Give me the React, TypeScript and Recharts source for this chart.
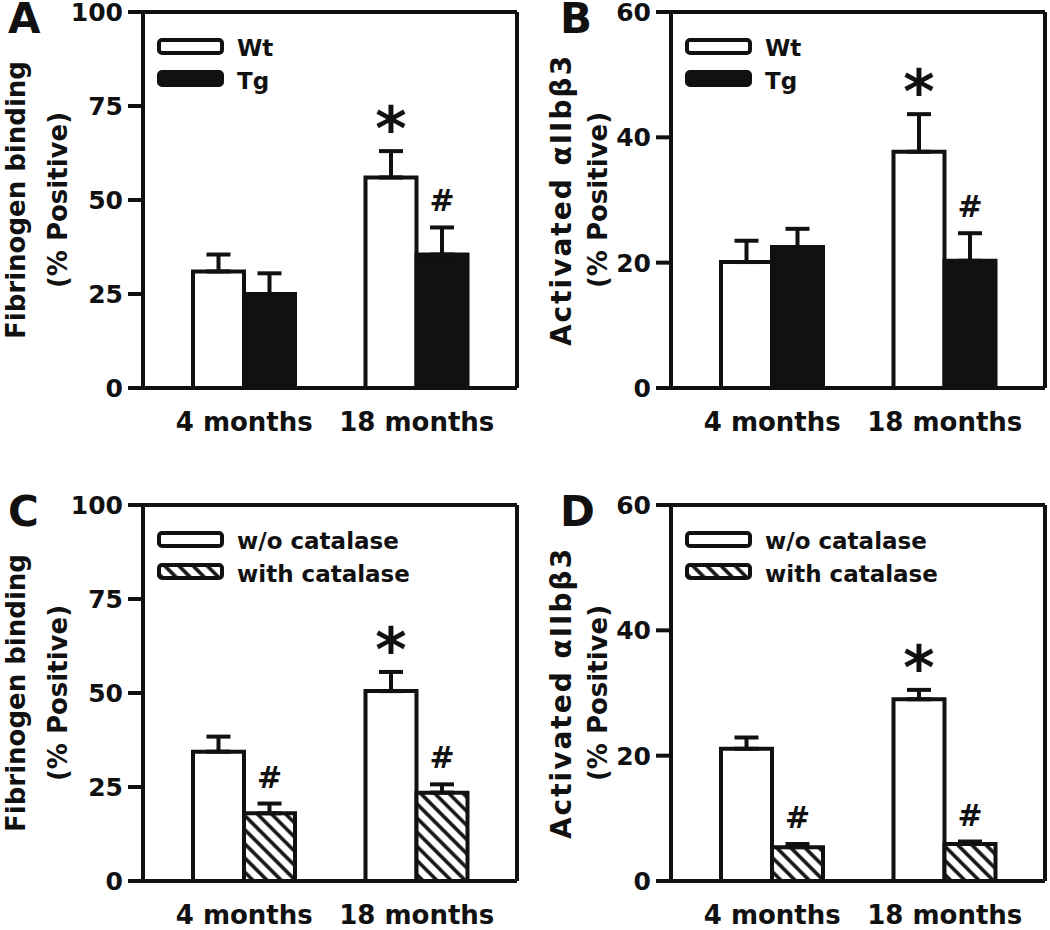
import React from 'react';
import { BarChart, Bar, XAxis, YAxis, ErrorBar, LabelList, ReferenceLine, Customized } from 'recharts';

const FONT = '"DejaVu Sans", Arial, sans-serif';
const INK = '#111';

const categories = ['4 months', '18 months'];

// A: fibrinogen binding, Wt vs Tg
const fibWt = [31, 56];
const fibWtErr = [4.5, 7];
const fibWtMark = ['', '*'];
const fibTg = [25, 35.5];
const fibTgErr = [5.5, 7.2];
const fibTgMark = ['', '#'];

// B: activated aIIbb3, Wt vs Tg
const actWt = [20.1, 37.7];
const actWtErr = [3.4, 6.0];
const actWtMark = ['', '*'];
const actTg = [22.5, 20.3];
const actTgErr = [2.9, 4.4];
const actTgMark = ['', '#'];

// C: fibrinogen binding, catalase
const fibNoCat = [34.4, 50.5];
const fibNoCatErr = [4.0, 5.1];
const fibNoCatMark = ['', '*'];
const fibCat = [18.0, 23.5];
const fibCatErr = [2.6, 2.2];
const fibCatMark = ['#', '#'];

// D: activated aIIbb3, catalase
const actNoCat = [21.1, 29.0];
const actNoCatErr = [1.8, 1.5];
const actNoCatMark = ['', '*'];
const actCat = [5.4, 5.9];
const actCatErr = [0.5, 0.4];
const actCatMark = ['#', '#'];

const fibTicks = [0, 25, 50, 75, 100];
const actTicks = [0, 20, 40, 60];

type Series = { name: string; values: number[]; errors: number[]; marks: string[]; fill: string };

function rows(a: Series, b: Series) {
  return categories.map((cat, i) => ({
    cat,
    a: a.values[i], aErr: [0, a.errors[i]], aMark: a.marks[i],
    b: b.values[i], bErr: [0, b.errors[i]], bMark: b.marks[i],
  }));
}

const W = 522;
const H = 437;

const markContent = (s: Series) => (p: any) => {
  const { x, y, width, height, value, index } = p;
  if (!value) return null;
  const perUnit = height / s.values[index];
  const errTop = y - s.errors[index] * perUnit;
  const cx = x + width / 2;
  if (value === '*') {
    return (
      <text x={cx} y={errTop - 1} textAnchor="middle" fontSize={60} fontWeight="bold" fontFamily={FONT} fill={INK}>*</text>
    );
  }
  return (
    <text x={cx} y={errTop - 16} textAnchor="middle" fontSize={30} fontWeight="bold" fontFamily={FONT} fill={INK}>#</text>
  );
};

function Decor({ letter, letterX, yLabel, labelX, labelSize, labelSpacing, names, fills }: any) {
  return (
    <g fontFamily={FONT} fontWeight="bold" fill={INK}>
      <text x={letterX} y={33} fontSize={42}>{letter}</text>
      {yLabel.map((line: string, i: number) => (
        <text
          key={i}
          transform={`translate(${labelX[i]},200) rotate(-90)`}
          textAnchor="middle"
          fontSize={labelSize[i]}
          letterSpacing={labelSpacing[i]}
        >
          {line}
        </text>
      ))}
      {names.map((n: string, i: number) => (
        <g key={n}>
          <rect x={159} y={40 + 32 * i} width={63} height={13} rx={3} fill={fills[i]} stroke={INK} strokeWidth={4} />
          <text x={237} y={56 + 33 * i} fontSize={23}>{n}</text>
        </g>
      ))}
    </g>
  );
}

function Panel({ letter, letterX, left, top, a, b, yMax, ticks, yLabel, labelX, labelSize, labelSpacing, hatchId }: any) {
  const data = rows(a, b);
  return (
    <div style={{ position: 'absolute', left, top, width: W, height: H }}>
      <BarChart width={W} height={H} data={data} margin={{ top: 12, right: 4, bottom: 0, left: 0 }} barGap={0} barSize={51}>
        {hatchId && (
          <defs>
            <pattern id={hatchId} patternUnits="userSpaceOnUse" width={10} height={10} patternTransform="rotate(-45)">
              <rect width={10} height={10} fill="#fff" />
              <line x1={5} y1={0} x2={5} y2={10} stroke={INK} strokeWidth={3.5} />
            </pattern>
          </defs>
        )}
        <XAxis
          dataKey="cat"
          height={49}
          padding={{ left: 15, right: 14 }}
          axisLine={{ stroke: INK, strokeWidth: 4 }}
          tickLine={false}
          tickSize={0}
          tickMargin={25}
          tick={{ fill: INK, fontSize: 26, fontWeight: 'bold', fontFamily: FONT }}
        />
        <YAxis
          width={143}
          domain={[0, yMax]}
          ticks={ticks}
          interval={0}
          axisLine={{ stroke: INK, strokeWidth: 4 }}
          tickLine={{ stroke: INK, strokeWidth: 4 }}
          tickSize={15}
          tickMargin={5}
          tick={{ fill: INK, fontSize: 25, fontWeight: 'bold', fontFamily: FONT }}
        />
        <YAxis
          yAxisId="frame"
          orientation="right"
          width={1}
          domain={[0, yMax]}
          tick={false}
          tickLine={false}
          axisLine={{ stroke: INK, strokeWidth: 4 }}
        />
        <ReferenceLine y={yMax} stroke={INK} strokeWidth={4} />
        <Bar dataKey="a" name={a.name} fill={a.fill} stroke={INK} strokeWidth={4} isAnimationActive={false}>
          <ErrorBar dataKey="aErr" width={12} stroke={INK} strokeWidth={4} isAnimationActive={false} />
          <LabelList dataKey="aMark" content={markContent(a)} />
        </Bar>
        <Bar dataKey="b" name={b.name} fill={b.fill} stroke={INK} strokeWidth={4} isAnimationActive={false}>
          <ErrorBar dataKey="bErr" width={12} stroke={INK} strokeWidth={4} isAnimationActive={false} />
          <LabelList dataKey="bMark" content={markContent(b)} />
        </Bar>
        <Customized
          component={
            <Decor
              letter={letter}
              letterX={letterX}
              yLabel={yLabel}
              labelX={labelX}
              labelSize={labelSize}
              labelSpacing={labelSpacing}
              names={[a.name, b.name]}
              fills={[a.fill, b.fill]}
            />
          }
        />
      </BarChart>
    </div>
  );
}

export default function App() {
  const wtA: Series = { name: 'Wt', values: fibWt, errors: fibWtErr, marks: fibWtMark, fill: '#fff' };
  const tgA: Series = { name: 'Tg', values: fibTg, errors: fibTgErr, marks: fibTgMark, fill: INK };
  const wtB: Series = { name: 'Wt', values: actWt, errors: actWtErr, marks: actWtMark, fill: '#fff' };
  const tgB: Series = { name: 'Tg', values: actTg, errors: actTgErr, marks: actTgMark, fill: INK };
  const noC: Series = { name: 'w/o catalase', values: fibNoCat, errors: fibNoCatErr, marks: fibNoCatMark, fill: '#fff' };
  const catC: Series = { name: 'with catalase', values: fibCat, errors: fibCatErr, marks: fibCatMark, fill: 'url(#hatchC)' };
  const noD: Series = { name: 'w/o catalase', values: actNoCat, errors: actNoCatErr, marks: actNoCatMark, fill: '#fff' };
  const catD: Series = { name: 'with catalase', values: actCat, errors: actCatErr, marks: actCatMark, fill: 'url(#hatchD)' };

  const fibLabel = ['Fibrinogen binding', '(% Positive)'];
  const actLabel = ['Activated \u03B1IIb\u03B23', '(% Positive)'];

  return (
    <div style={{ position: 'absolute', left: 0, top: 0, width: 1050, height: 930, overflow: 'hidden', background: '#fff', fontFamily: FONT }}>
      <style>{'.recharts-surface { overflow: visible; }'}</style>
      <Panel letter="A" letterX={8} left={0} top={0} a={wtA} b={tgA} yMax={100} ticks={fibTicks}
        yLabel={fibLabel} labelX={[25, 67]} labelSize={[26, 26]} labelSpacing={[0, 0]} />
      <Panel letter="B" letterX={32} left={528} top={0} a={wtB} b={tgB} yMax={60} ticks={actTicks}
        yLabel={actLabel} labelX={[43, 79]} labelSize={[28, 26]} labelSpacing={[2, 0]} />
      <Panel letter="C" letterX={8} left={0} top={493} a={noC} b={catC} yMax={100} ticks={fibTicks}
        yLabel={fibLabel} labelX={[25, 67]} labelSize={[26, 26]} labelSpacing={[0, 0]} hatchId="hatchC" />
      <Panel letter="D" letterX={32} left={528} top={493} a={noD} b={catD} yMax={60} ticks={actTicks}
        yLabel={actLabel} labelX={[43, 79]} labelSize={[28, 26]} labelSpacing={[2, 0]} hatchId="hatchD" />
    </div>
  );
}
